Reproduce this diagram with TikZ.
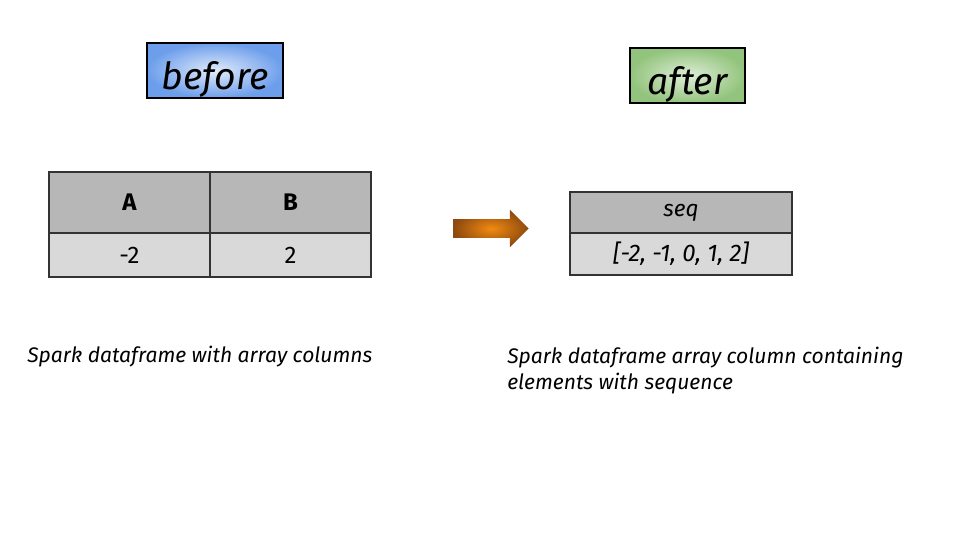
\documentclass[tikz,border=0pt]{standalone}
\usepackage{fontspec}
\setmainfont{Fira Sans}
\usetikzlibrary{shapes.arrows}

\definecolor{headgray}{HTML}{B7B7B7}
\definecolor{cellgray}{HTML}{D9D9D9}
\definecolor{tagblue}{HTML}{6D9EEB}
\definecolor{taggreen}{HTML}{93C47D}
\definecolor{arroworange}{HTML}{F28A12}
\definecolor{arrowbrown}{HTML}{8E4A0E}

\tikzset{
  tag/.style={draw=black, line width=2.2pt, inner sep=0pt, minimum height=41.25pt,
    text height=29pt, text depth=0pt, font=\fontsize{28}{32}\selectfont\itshape},
  cell/.style={draw=black!80, line width=1pt, inner sep=0pt, font=\fontsize{18}{20}\selectfont},
  headcell/.style={cell, fill=headgray},
  datacell/.style={cell, fill=cellgray},
  caption/.style={anchor=west, inner sep=0pt, align=left,
    font=\fontsize{15.8}{19.5}\selectfont\itshape}
}

\begin{document}
\begin{tikzpicture}[x=0.75pt,y=-0.75pt]
\useasboundingbox (0,0) rectangle (960,540);

% before / after tags
\node[tag, minimum width=102pt, inner color=tagblue!20, outer color=tagblue] (before) at (215,70.5) {before};
\node[tag, minimum width=86.25pt, inner color=taggreen!30, outer color=taggreen] (after) at (687.5,75.5) {after};

% left table
\node[headcell, minimum width=120.75pt, minimum height=45.75pt, font=\fontsize{18}{20}\selectfont\bfseries] (colA) at (129.5,202.5) {A};
\node[headcell, minimum width=120.75pt, minimum height=45.75pt, font=\fontsize{18}{20}\selectfont\bfseries] (colB) at (290.5,202.5) {B};
\node[datacell, minimum width=120.75pt, minimum height=33pt] (valA) at (129.5,255) {-2};
\node[datacell, minimum width=120.75pt, minimum height=33pt] (valB) at (290.5,255) {2};

% arrow
\node[single arrow, draw=none, inner sep=0pt, text height=13.5pt, text depth=0pt, minimum height=56.25pt,
  single arrow head extend=7.1pt, inner color=arroworange, outer color=arrowbrown] (step1) at (486.5,228.5) {};

% right table
\node[headcell, minimum width=166.5pt, minimum height=30.75pt, font=\fontsize{17}{20}\selectfont\itshape] (colSeq) at (681,212.5) {seq};
\node[datacell, minimum width=166.5pt, minimum height=31.5pt, font=\fontsize{18}{20}\selectfont\itshape] (valSeq) at (681,254) {[-2, -1, 0, 1, 2]};

% captions
\node[caption] (capLeft) at (27,357) {Spark dataframe with array columns};
\node[caption, anchor=north west] (capRight) at (507,347) {Spark dataframe array column containing\\elements with sequence};
\end{tikzpicture}
\end{document}
